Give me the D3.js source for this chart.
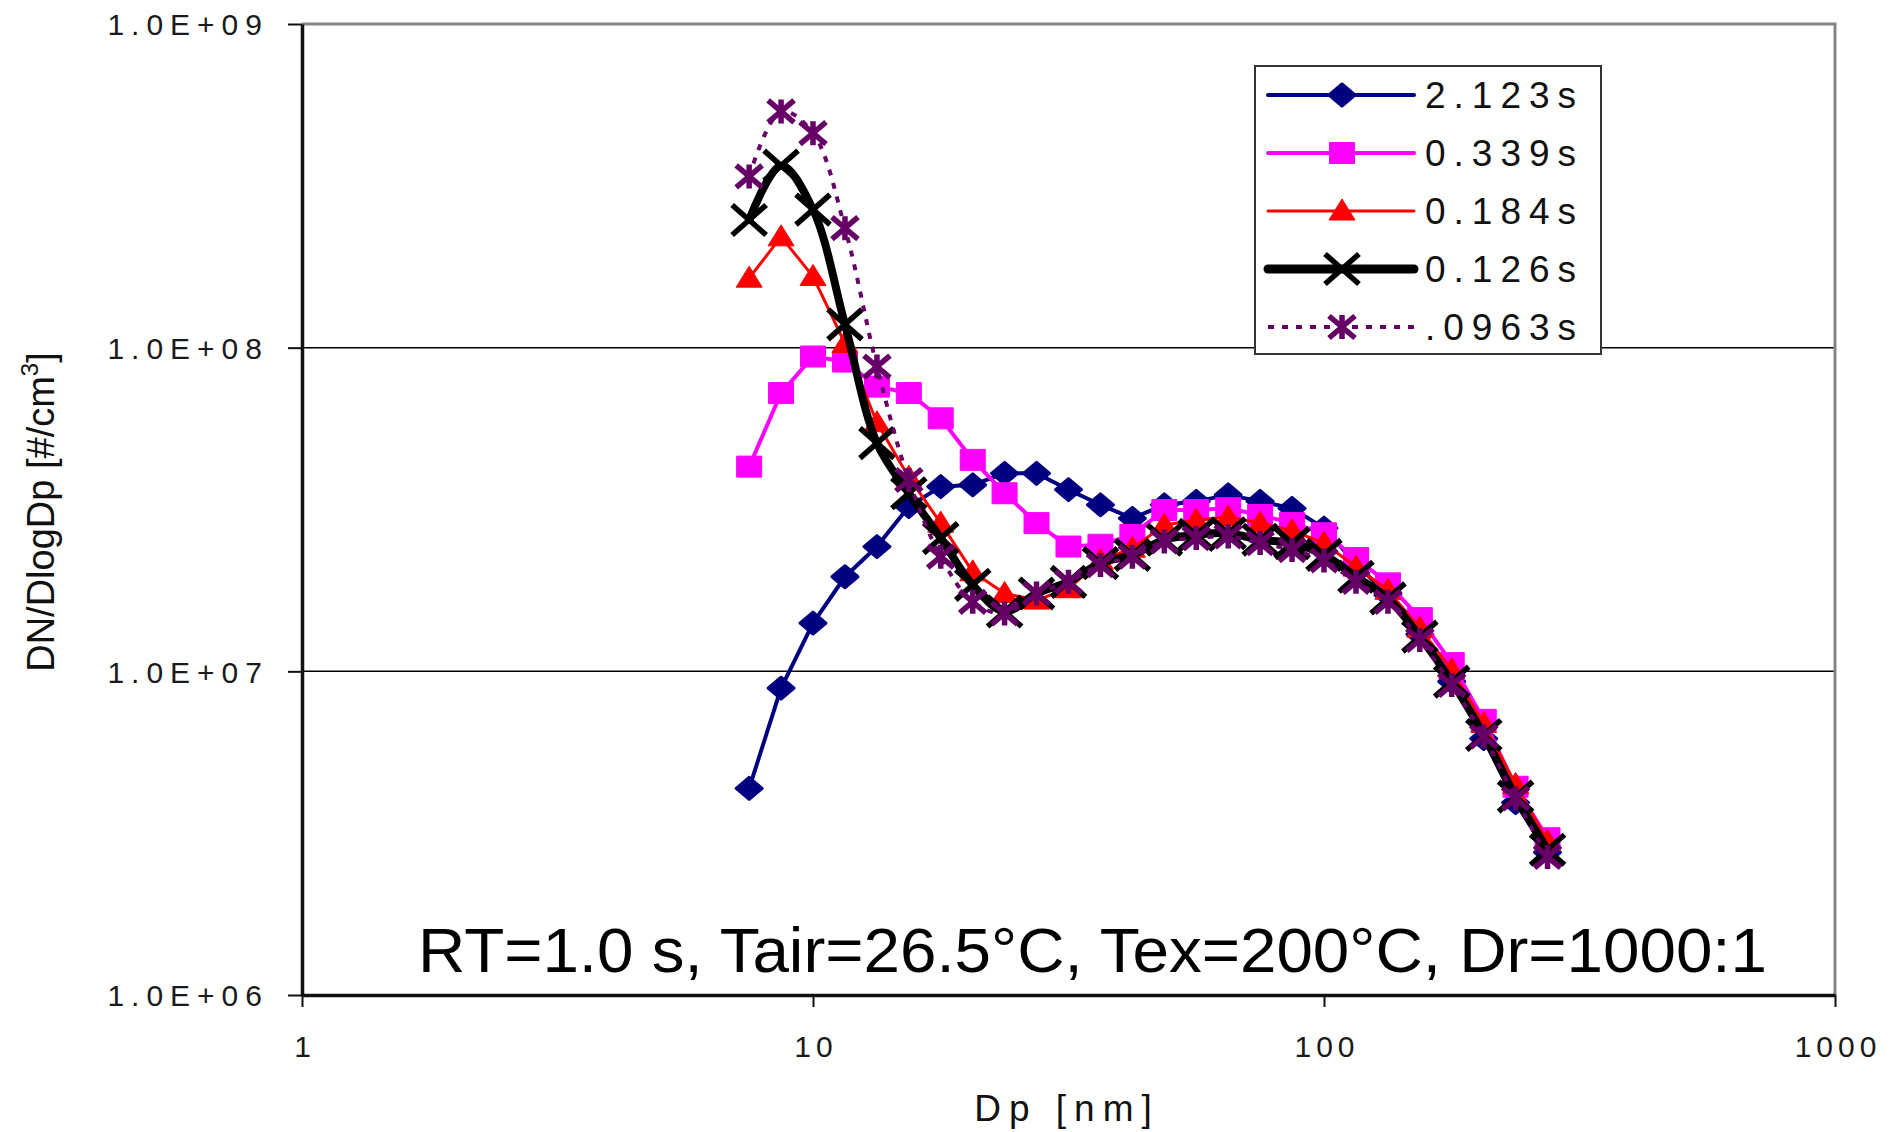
<!DOCTYPE html>
<html>
<head>
<meta charset="utf-8">
<script src="https://cdn.jsdelivr.net/npm/d3@7"></script>
<style>
body { margin: 0; background: #fff; }
svg text { font-family: "Liberation Sans", Arial, sans-serif; }
</style>
</head>
<body>
<svg width="1898" height="1132"></svg>
<script>
// particle diameters [nm], 16 channels per decade
var dp = [7.50, 8.66, 10.0, 11.55, 13.34, 15.40, 17.78, 20.54, 23.71, 27.38, 31.62, 36.52, 42.17,
          48.70, 56.23, 64.94, 74.99, 86.60, 100.0, 115.5, 133.4, 154.0, 177.8, 205.4, 237.1, 273.8];

// DN/DlogDp [#/cm3] for each residence time
var s2123 = [4.35e6, 8.87e6, 1.41e7, 1.96e7, 2.43e7, 3.23e7, 3.72e7, 3.77e7, 4.09e7, 4.09e7, 3.64e7, 3.27e7, 2.97e7,
             3.27e7, 3.35e7, 3.51e7, 3.35e7, 3.19e7, 2.77e7, 2.15e7, 1.72e7, 1.30e7, 9.3e6, 6.2e6, 3.93e6, 2.76e6];
var s0339 = [4.29e7, 7.24e7, 9.39e7, 9.06e7, 7.58e7, 7.24e7, 6.05e7, 4.50e7, 3.55e7, 2.87e7, 2.43e7, 2.46e7, 2.64e7,
             3.15e7, 3.15e7, 3.19e7, 3.04e7, 2.87e7, 2.67e7, 2.24e7, 1.87e7, 1.46e7, 1.06e7, 7.08e6, 4.40e6, 3.05e6];
var s0184 = [1.64e8, 2.20e8, 1.66e8, 1.03e8, 5.86e7, 3.98e7, 2.87e7, 2.03e7, 1.74e7, 1.66e7, 1.80e7, 2.20e7, 2.40e7,
             2.83e7, 2.93e7, 3.00e7, 2.87e7, 2.72e7, 2.49e7, 2.10e7, 1.78e7, 1.36e7, 1.01e7, 6.9e6, 4.47e6, 2.98e6];
var s0126 = [2.48e8, 3.65e8, 2.67e8, 1.18e8, 5.07e7, 3.55e7, 2.58e7, 1.85e7, 1.53e7, 1.74e7, 1.89e7, 2.16e7, 2.29e7,
             2.55e7, 2.64e7, 2.67e7, 2.55e7, 2.49e7, 2.29e7, 1.96e7, 1.68e7, 1.28e7, 9.29e6, 6.36e6, 4.10e6, 2.81e6];
var s0963 = [3.38e8, 5.37e8, 4.60e8, 2.34e8, 8.74e7, 3.90e7, 2.26e7, 1.64e7, 1.51e7, 1.74e7, 1.89e7, 2.13e7, 2.26e7,
             2.52e7, 2.58e7, 2.61e7, 2.49e7, 2.37e7, 2.20e7, 1.89e7, 1.64e7, 1.25e7, 9.08e6, 6.29e6, 4.05e6, 2.67e6];

var seriesNames = ["2.123s", "0.339s", "0.184s", "0.126s", ".0963s"];
var yTicks = [1e6, 1e7, 1e8, 1e9];
var yTickLabels = ["1.0E+06", "1.0E+07", "1.0E+08", "1.0E+09"];
var xTicks = [1, 10, 100, 1000];
var xTickLabels = ["1", "10", "100", "1000"];

var svg = d3.select("svg");
var font = "Liberation Sans, Arial, sans-serif";

var x = d3.scaleLog().domain([1, 1000]).range([302, 1835]);
var y = d3.scaleLog().domain([1e6, 1e9]).range([995, 24]);

// look of each series
var styles = [
  {values: s2123, color: "#000080", width: 4, dash: null, marker: "diamond", smooth: false},
  {values: s0339, color: "#ff00ff", width: 4, dash: null, marker: "square", smooth: false},
  {values: s0184, color: "#ff0000", width: 3, dash: null, marker: "triangle", smooth: false},
  {values: s0126, color: "#000000", width: 8, dash: null, marker: "cross", smooth: true},
  {values: s0963, color: "#660066", width: 4, dash: "6,8", marker: "star", smooth: true}
];

function markerPath(type) {
  if (type == "diamond") return "M0,-11L13,0L0,11L-13,0Z";
  if (type == "square") return "M-12.5,-10.5H12.5V10.5H-12.5Z";
  if (type == "triangle") return "M0,-12L13,9H-13Z";
  if (type == "cross") return "M-17,-15L17,15M17,-15L-17,15";
  return "M-13,-11L13,11M13,-11L-13,11M0,-12V12";
}
function isStroked(type) {
  return type == "cross" || type == "star";
}
function drawMarker(sel, s) {
  sel.attr("d", markerPath(s.marker));
  if (isStroked(s.marker)) {
    sel.attr("fill", "none").attr("stroke", s.color).attr("stroke-width", 5.5);
  } else {
    sel.attr("fill", s.color).attr("stroke", s.color)
      .attr("stroke-width", s.marker == "diamond" ? 3 : 1)
      .attr("stroke-linejoin", "round");
  }
}

// gridlines
svg.append("g")
  .selectAll("line")
  .data([1e7, 1e8])
  .join("line")
  .attr("x1", x(1)).attr("x2", x(1000))
  .attr("y1", function(d) { return y(d); })
  .attr("y2", function(d) { return y(d); })
  .attr("stroke", "#000")
  .attr("stroke-width", 1.5);

// plot area frame (top and right)
svg.append("path")
  .attr("d", "M" + x(1) + "," + y(1e9) + "H" + x(1000) + "V" + y(1e6))
  .attr("fill", "none")
  .attr("stroke", "#858585")
  .attr("stroke-width", 3);

// y axis
var yAxis = svg.append("g")
  .attr("transform", "translate(" + x(1) + ",0)")
  .call(d3.axisLeft(y).tickValues(yTicks).tickSize(14).tickSizeOuter(0)
    .tickFormat(function(d, i) { return yTickLabels[i]; }))
  .attr("font-family", font);
yAxis.select(".domain").attr("stroke", "#111").attr("stroke-width", 3.5);
yAxis.selectAll(".tick line").attr("stroke", "#111").attr("stroke-width", 2);
yAxis.selectAll(".tick text")
  .attr("font-size", 30)
  .attr("letter-spacing", 7)
  .attr("fill", "#1a1a1a")
  .attr("x", -33)
  .attr("dy", "0.36em");

// x axis
var xAxis = svg.append("g")
  .attr("transform", "translate(0," + y(1e6) + ")")
  .call(d3.axisBottom(x).tickValues(xTicks).tickSize(12).tickSizeOuter(0)
    .tickFormat(function(d, i) { return xTickLabels[i]; }))
  .attr("font-family", font);
xAxis.select(".domain").attr("stroke", "#111").attr("stroke-width", 3.5);
xAxis.selectAll(".tick line").attr("stroke", "#111").attr("stroke-width", 2);
xAxis.selectAll(".tick text")
  .attr("font-size", 30)
  .attr("letter-spacing", 5)
  .attr("fill", "#1a1a1a")
  .attr("y", 62)
  .attr("dy", 0)
  .attr("dx", 2.5);

// series
styles.forEach(function(s) {
  var line = d3.line()
    .x(function(d, i) { return x(dp[i]); })
    .y(function(d) { return y(d); })
    .curve(s.smooth ? d3.curveCatmullRom.alpha(0.5) : d3.curveLinear);
  var g = svg.append("g");
  g.append("path")
    .attr("d", line(s.values))
    .attr("fill", "none")
    .attr("stroke", s.color)
    .attr("stroke-width", s.width)
    .attr("stroke-dasharray", s.dash)
    .attr("stroke-linejoin", "round");
  g.selectAll("path.m")
    .data(s.values)
    .join("path")
    .attr("class", "m")
    .attr("transform", function(d, i) { return "translate(" + x(dp[i]) + "," + y(d) + ")"; })
    .call(drawMarker, s);
});

// legend
var legend = svg.append("g");
legend.append("rect")
  .attr("x", 1255).attr("y", 66)
  .attr("width", 346).attr("height", 288)
  .attr("fill", "#fff")
  .attr("stroke", "#333")
  .attr("stroke-width", 2);
styles.forEach(function(s, i) {
  var ly = 95 + i * 58;
  legend.append("line")
    .attr("x1", 1268).attr("x2", 1414)
    .attr("y1", ly).attr("y2", ly)
    .attr("stroke", s.color)
    .attr("stroke-width", s.width + (s.marker == "cross" ? 1 : 0))
    .attr("stroke-dasharray", s.dash)
    .attr("stroke-linecap", s.dash ? "butt" : "round");
  legend.append("path")
    .attr("transform", "translate(1342," + ly + ")")
    .call(drawMarker, s);
  legend.append("text")
    .attr("x", 1425).attr("y", ly + 13)
    .attr("font-size", 37)
    .attr("letter-spacing", 8)
    .attr("fill", "#111")
    .text(seriesNames[i]);
});

// axis titles
svg.append("text")
  .attr("x", 1067).attr("y", 1121)
  .attr("text-anchor", "middle")
  .attr("font-size", 37)
  .attr("letter-spacing", 8)
  .attr("fill", "#111")
  .text("Dp [nm]");

var yt = svg.append("text")
  .attr("transform", "translate(54,512) rotate(-90)")
  .attr("text-anchor", "middle")
  .attr("font-size", 38)
  .attr("fill", "#111");
yt.append("tspan").text("DN/DlogDp [#/cm");
yt.append("tspan").attr("font-size", 24).attr("dy", -16).text("3");
yt.append("tspan").attr("dy", 16).text("]");

// run conditions
svg.append("text")
  .attr("x", 418).attr("y", 972)
  .attr("font-size", 63)
  .attr("textLength", 1349)
  .attr("lengthAdjust", "spacingAndGlyphs")
  .attr("fill", "#000")
  .text("RT=1.0 s, Tair=26.5\u00b0C, Tex=200\u00b0C, Dr=1000:1");
</script>
</body>
</html>
